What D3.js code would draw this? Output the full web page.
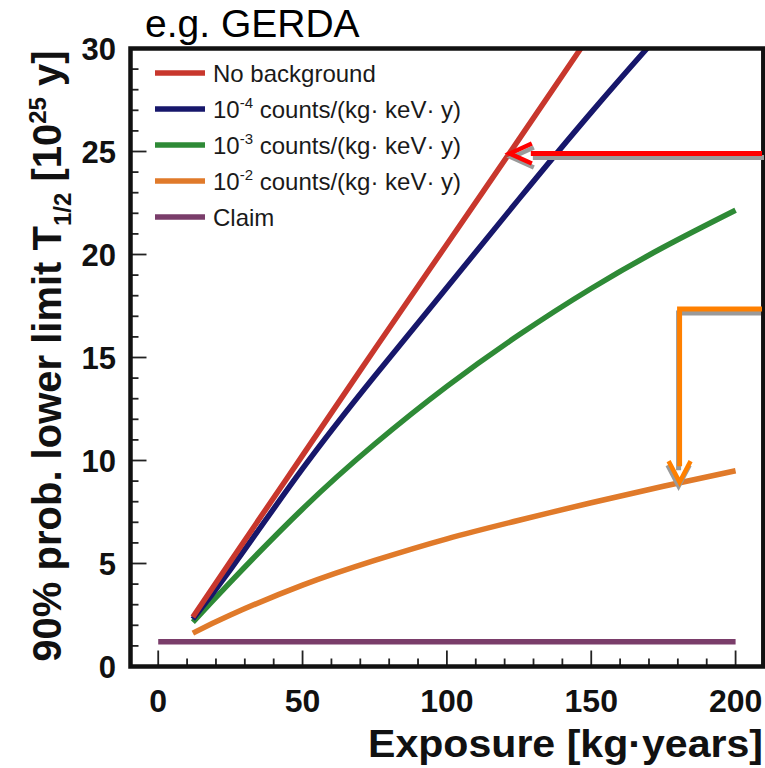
<!DOCTYPE html>
<html>
<head>
<meta charset="utf-8">
<script src="https://cdn.jsdelivr.net/npm/d3@7"></script>
<style>
  html, body { margin: 0; padding: 0; background: #fff; }
  svg { display: block; }
  text { font-family: "Liberation Sans", Arial, Helvetica, sans-serif; }
</style>
</head>
<body>
<svg id="chart" width="765" height="768"></svg>
<script>
// ---------------- data ----------------
const titleText = "e.g. GERDA";
const exposure = [12, 25, 50, 75, 100, 125, 150, 175, 200];
const noBackground = [2.4, 5.1, 10.25, 15.4, 20.5, 25.6, 30.75, 35.9, 41.0];
const bkg1e4 = [2.3, 4.7, 9.6, 14.1, 18.4, 22.7, 26.9, 30.9, 34.8];
const bkg1e3 = [2.15, 4.1, 7.65, 10.8, 13.6, 16.1, 18.35, 20.35, 22.15];
const bkg1e2 = [1.62, 2.5, 3.95, 5.15, 6.2, 7.1, 7.95, 8.75, 9.5];
const claimExposure = [0, 200];
const claimValue = [1.2, 1.2];
const xMajorTicks = [0, 50, 100, 150, 200];
const yMajorTicks = [0, 5, 10, 15, 20, 25, 30];
const legendNames = ["No background", "-4", "-3", "-2", "Claim"];
const legendColors = ["#c8372d", "#17176b", "#2e8a36", "#e07a2a", "#7a3d6a"];
// annotation arrows (in data coordinates)
const redArrowTip = [121.8, 24.9];
const orangeArrowCorner = [180.6, 17.35];
const orangeArrowTip = [180.6, 8.95];

// ---------------- scales ----------------
const svg = d3.select("#chart");
const x = d3.scaleLinear().domain([-9.6, 209.6]).range([130.5, 763.3]);
const y = d3.scaleLinear().domain([0, 30]).range([666.5, 48.5]);

svg.append("defs").append("clipPath").attr("id", "plotclip")
  .append("rect").attr("x", x.range()[0]).attr("y", y.range()[1])
  .attr("width", x.range()[1] - x.range()[0]).attr("height", y.range()[0] - y.range()[1]);

// ---------------- ticks (inside) ----------------
const tickG = svg.append("g").attr("stroke", "#222").attr("stroke-width", 1.8);
d3.range(0, 201, 10).forEach(v => {
  const major = v % 50 === 0;
  tickG.append("line").attr("x1", x(v)).attr("x2", x(v))
    .attr("y1", y(0)).attr("y2", y(0) - (major ? 16 : 8));
});
d3.range(0, 31, 1).forEach(v => {
  const major = v % 5 === 0;
  tickG.append("line").attr("y1", y(v)).attr("y2", y(v))
    .attr("x1", x.range()[0]).attr("x2", x.range()[0] + (major ? 16 : 8));
});

// ---------------- curves ----------------
const line = d3.line().x(d => x(d[0])).y(d => y(d[1])).curve(d3.curveNatural);
const curves = [noBackground, bkg1e4, bkg1e3, bkg1e2];
const plotG = svg.append("g").attr("clip-path", "url(#plotclip)");
plotG.append("path")
  .attr("d", line(d3.zip(claimExposure, claimValue)))
  .attr("fill", "none").attr("stroke", legendColors[4]).attr("stroke-width", 5.5);
curves.slice().reverse().forEach((vals, i) => {
  const idx = curves.length - 1 - i;
  plotG.append("path")
    .attr("d", line(d3.zip(exposure, vals)))
    .attr("fill", "none").attr("stroke", legendColors[idx])
    .attr("stroke-width", 5.5).attr("stroke-linecap", "butt");
});

// ---------------- frame ----------------
svg.append("rect")
  .attr("x", x.range()[0]).attr("y", y.range()[1])
  .attr("width", x.range()[1] - x.range()[0]).attr("height", y.range()[0] - y.range()[1])
  .attr("fill", "none").attr("stroke", "#111").attr("stroke-width", 4.5);

// ---------------- tick labels ----------------
svg.append("g").selectAll("text").data(xMajorTicks).join("text")
  .attr("x", d => x(d)).attr("y", 712)
  .attr("text-anchor", "middle").attr("font-weight", "bold").attr("font-size", 32)
  .attr("fill", "#111").text(d => d);
svg.append("g").selectAll("text").data(yMajorTicks).join("text")
  .attr("x", 116).attr("y", d => y(d) + 11)
  .attr("text-anchor", "end").attr("font-weight", "bold").attr("font-size", 31)
  .attr("fill", "#111").text(d => d);

// ---------------- axis titles ----------------
svg.append("text").attr("x", 763).attr("y", 757)
  .attr("text-anchor", "end").attr("font-weight", "bold").attr("font-size", 39)
  .attr("textLength", 395).attr("lengthAdjust", "spacingAndGlyphs")
  .attr("fill", "#111").text("Exposure [kg\u00B7years]");

const yt = svg.append("text")
  .attr("transform", "translate(61,356) rotate(-90)")
  .attr("text-anchor", "middle").attr("font-weight", "bold").attr("font-size", 40)
  .attr("fill", "#111");
yt.append("tspan").text("90% prob. lower limit T");
yt.append("tspan").attr("font-size", 24).attr("dy", 10).text("1/2");
yt.append("tspan").attr("dy", -10).text(" [10");
yt.append("tspan").attr("font-size", 24).attr("dy", -15).text("25");
yt.append("tspan").attr("dy", 15).text(" y]");

// ---------------- legend ----------------
const legRowY = [73, 109, 145, 181, 217];
const leg = svg.append("g");
legendNames.forEach((name, i) => {
  leg.append("line").attr("x1", 155).attr("x2", 205)
    .attr("y1", legRowY[i]).attr("y2", legRowY[i])
    .attr("stroke", legendColors[i]).attr("stroke-width", 5.5);
  const t = leg.append("text").attr("x", 213).attr("y", legRowY[i] + 8.5)
    .attr("font-size", 24).attr("fill", "#1a1a1a");
  if (i === 0 || i === 4) {
    t.text(name);
  } else {
    t.append("tspan").text("10");
    t.append("tspan").attr("font-size", 15).attr("dy", -10).text(name);
    t.append("tspan").attr("dy", 10).text(" counts/(kg\u00B7 keV\u00B7 y)");
  }
});

// ---------------- title ----------------
svg.append("text").attr("x", 145).attr("y", 37)
  .attr("font-family", "Lato, 'Open Sans', sans-serif")
  .attr("font-size", 39).attr("fill", "#000").text(titleText);

// ---------------- annotation arrows ----------------
const ann = svg.append("g").attr("fill", "none").attr("stroke-linecap", "butt").attr("stroke-linejoin", "miter");
function redArrow(dx, dy, color) {
  const tx = x(redArrowTip[0]) + dx, ty = y(redArrowTip[1]) + dy;
  ann.append("line").attr("x1", tx + 21).attr("x2", 762 + dx).attr("y1", ty).attr("y2", ty)
    .attr("stroke", color).attr("stroke-width", 5);
  ann.append("path").attr("d", `M${tx + 22},${ty - 10} L${tx},${ty} L${tx + 22},${ty + 10}`)
    .attr("stroke", color).attr("stroke-width", 4.5);
}
function orangeArrow(dx, dy, color) {
  const cx = x(orangeArrowCorner[0]) + dx, cy = y(orangeArrowCorner[1]) + dy;
  const tx = x(orangeArrowTip[0]) + dx, ty = y(orangeArrowTip[1]) + dy;
  ann.append("path").attr("d", `M${762 + dx},${cy} L${cx},${cy} L${cx},${ty - 16}`)
    .attr("stroke", color).attr("stroke-width", 5);
  ann.append("path").attr("d", `M${tx - 11},${ty - 21} L${tx},${ty} L${tx + 11},${ty - 21}`)
    .attr("stroke", color).attr("stroke-width", 4.5);
}
redArrow(2, 4, "#9a9a9a");
redArrow(0, 0, "#ff0000");
orangeArrow(-1, 4, "#9a9a9a");
orangeArrow(0, 0, "#ff8000");
</script>
</body>
</html>
